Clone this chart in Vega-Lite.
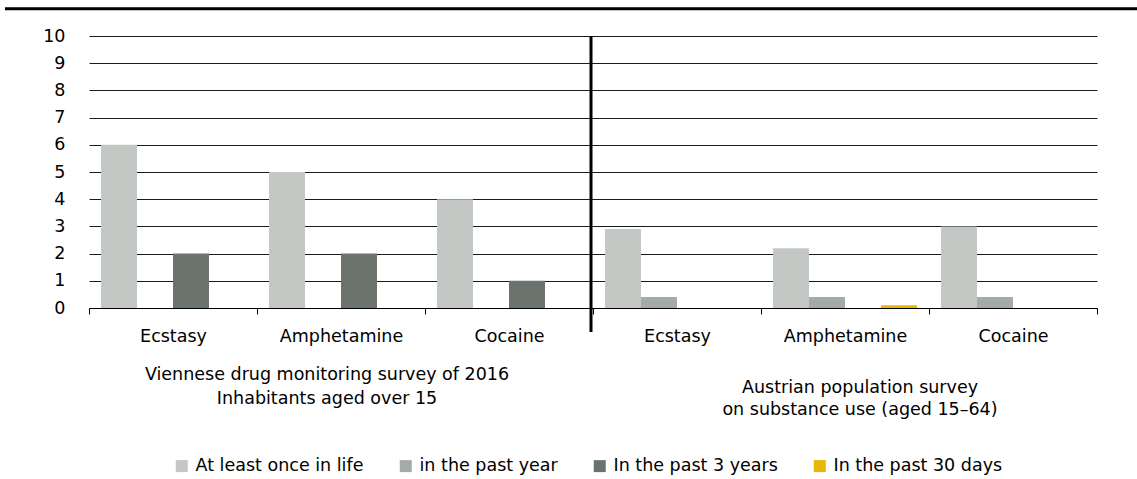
{
  "$schema": "https://vega.github.io/schema/vega-lite/v6.json",
  "autosize": "none",
  "width": 1008,
  "height": 272,
  "padding": {"top": 36, "left": 89, "right": 40, "bottom": 171},
  "config": {
    "font": "DejaVu Sans",
    "view": {"stroke": null},
    "axis": {"labelFontSize": 17.5, "labelColor": "#000", "titleColor": "#000", "labelFont": "DejaVu Sans"},
    "axisY": {"tickCount": 10, "labelOverlap": false, "domain": false, "ticks": false, "tickSize": 0, "labelPadding": 24, "grid": true, "gridColor": "#1a1a1a", "gridWidth": 1},
    "axisX": {"labelAngle": 0, "tickBand": "extent", "tickSize": 6, "tickColor": "#000", "domainColor": "#000", "labelPadding": 13, "grid": false},
    "legend": {"labelFontSize": 17.5, "labelColor": "#000", "labelFont": "DejaVu Sans", "labelLimit": 400}
  },
  "datasets": {
    "bars": [
      {"cat": "V|Ecstasy", "series": "At least once in life", "value": 6},
      {"cat": "V|Ecstasy", "series": "In the past 3 years", "value": 2},
      {"cat": "V|Amphetamine", "series": "At least once in life", "value": 5},
      {"cat": "V|Amphetamine", "series": "In the past 3 years", "value": 2},
      {"cat": "V|Cocaine", "series": "At least once in life", "value": 4},
      {"cat": "V|Cocaine", "series": "In the past 3 years", "value": 1},
      {"cat": "A|Ecstasy", "series": "At least once in life", "value": 2.9},
      {"cat": "A|Ecstasy", "series": "in the past year", "value": 0.4},
      {"cat": "A|Amphetamine", "series": "At least once in life", "value": 2.2},
      {"cat": "A|Amphetamine", "series": "in the past year", "value": 0.4},
      {"cat": "A|Amphetamine", "series": "In the past 30 days", "value": 0.1},
      {"cat": "A|Cocaine", "series": "At least once in life", "value": 3.0},
      {"cat": "A|Cocaine", "series": "in the past year", "value": 0.4}
    ]
  },
  "layer": [
    {
      "data": {"name": "bars"},
      "mark": {"type": "bar"},
      "encoding": {
        "x": {
          "field": "cat", "type": "nominal",
          "scale": {"domain": ["V|Ecstasy", "V|Amphetamine", "V|Cocaine", "A|Ecstasy", "A|Amphetamine", "A|Cocaine"], "paddingInner": 0, "paddingOuter": 0},
          "axis": {"title": null, "labelExpr": "split(datum.label, '|')[1]"}
        },
        "xOffset": {
          "field": "series", "type": "nominal",
          "scale": {"domain": ["At least once in life", "in the past year", "In the past 3 years", "In the past 30 days"], "paddingInner": 0, "paddingOuter": 0.333}
        },
        "y": {
          "field": "value", "type": "quantitative",
          "scale": {"domain": [0, 10], "nice": false},
          "axis": {"title": null}
        },
        "color": {
          "field": "series", "type": "nominal",
          "scale": {"domain": ["At least once in life", "in the past year", "In the past 3 years", "In the past 30 days"], "range": ["#c3c8c5", "#a4aaa5", "#6a746c", "#e8b500"]},
          "legend": {"title": null, "orient": "none", "direction": "horizontal", "legendX": 84, "legendY": 421, "symbolType": "square", "symbolSize": 144, "symbolStrokeWidth": 0, "labelOffset": 5, "columnPadding": 33}
        }
      }
    },
    {
      "data": {"values": [{"cat": "A|Ecstasy"}]},
      "mark": {"type": "rule", "strokeWidth": 3, "color": "#000", "xOffset": -2},
      "encoding": {
        "x": {"field": "cat", "type": "nominal", "bandPosition": 0, "axis": {"title": null}},
        "y": {"datum": 10, "type": "quantitative", "axis": {"title": null}},
        "y2": {"datum": -0.88}
      }
    },
    {
      "data": {"values": [{"line": "top"}]},
      "mark": {"type": "rule", "strokeWidth": 3, "color": "#000"},
      "encoding": {
        "x": {"value": -84},
        "x2": {"value": 1048},
        "y": {"datum": 11, "type": "quantitative", "axis": {"title": null}}
      }
    },
    {
      "data": {"values": [{"cat": "V|Amphetamine", "label": ["Viennese drug monitoring survey of 2016", "Inhabitants aged over 15"]}]},
      "mark": {"type": "text", "fontSize": 17.5, "lineHeight": 24, "baseline": "top", "align": "center", "color": "#000", "dx": -14},
      "encoding": {
        "x": {"field": "cat", "type": "nominal", "axis": {"title": null}},
        "y": {"datum": -2.15, "type": "quantitative", "axis": {"title": null}},
        "text": {"field": "label"}
      }
    },
    {
      "data": {"values": [{"cat": "A|Amphetamine", "label": ["Austrian population survey", "on substance use (aged 15\u201364)"]}]},
      "mark": {"type": "text", "fontSize": 17.5, "lineHeight": 22, "baseline": "top", "align": "center", "color": "#000", "dx": 15},
      "encoding": {
        "x": {"field": "cat", "type": "nominal", "axis": {"title": null}},
        "y": {"datum": -2.6, "type": "quantitative", "axis": {"title": null}},
        "text": {"field": "label"}
      }
    }
  ]
}
